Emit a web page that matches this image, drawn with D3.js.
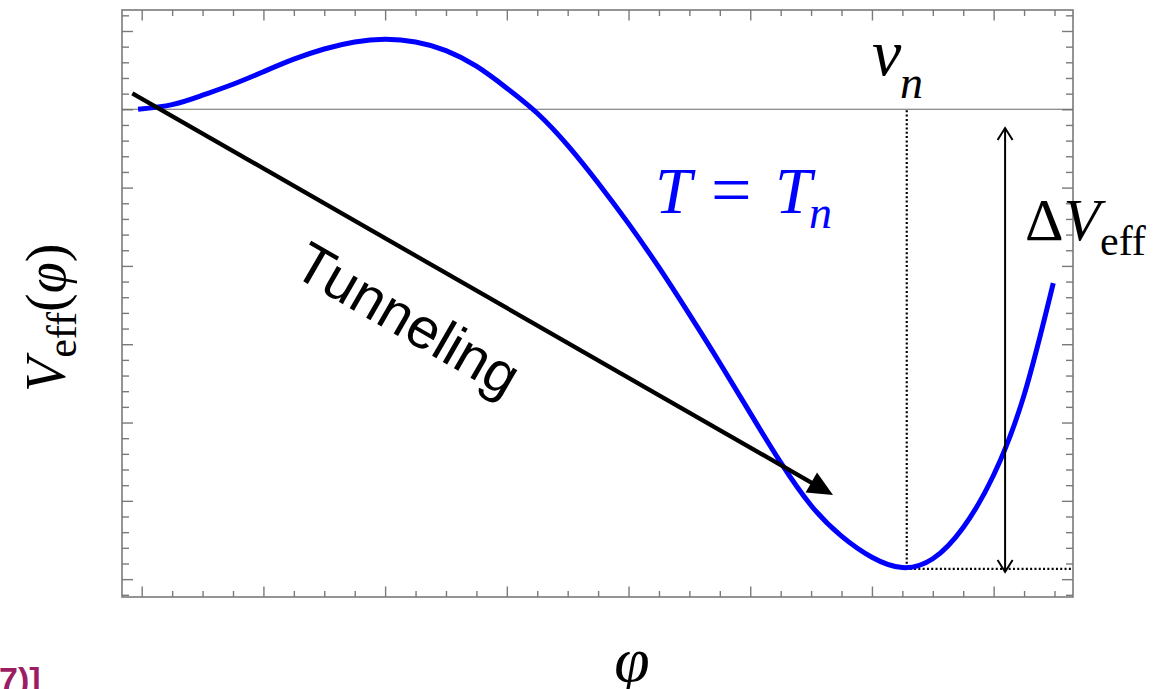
<!DOCTYPE html>
<html>
<head>
<meta charset="utf-8">
<script src="https://cdn.jsdelivr.net/npm/d3@7"></script>
<style>
  html, body { margin: 0; padding: 0; background: #fff; }
  svg { display: block; }
</style>
</head>
<body>
<svg id="chart" width="1173" height="689"></svg>
<script>
// ---- Data ----
const phi  = [-0.03, 0.25, 0.5, 0.75, 1.0, 1.25, 1.5, 1.75, 2.0, 2.25, 2.5, 2.75, 3.0, 3.25, 3.5, 3.75, 4.0, 4.25, 4.5, 4.75, 5.0, 5.25, 5.5, 5.75, 6.0, 6.25, 6.5, 6.75, 7.0, 7.25, 7.49];
const veff = [0.0, 0.06, 0.18, 0.32, 0.48, 0.64, 0.77, 0.86, 0.894, 0.86, 0.75, 0.55, 0.27, -0.05, -0.46, -0.94, -1.46, -2.02, -2.62, -3.24, -3.88, -4.51, -5.06, -5.45, -5.72, -5.852, -5.74, -5.34, -4.67, -3.65, -2.22];

const xMajorTicks = [0, 1, 2, 3, 4, 5, 6, 7];
const yMajorTicks = [-6, -5, -4, -3, -2, -1, 0, 1];
const xDomain = [-0.162, 7.652];
const yDomain = [-6.228, 1.268];

// annotation anchors (data units)
const phiN = 6.286;          // v_n, location of true minimum
const vMin = -5.87;          // depth of the minimum
const tunnelStart = [-0.077, 0.204];
const tunnelEnd   = [5.68, -4.925];
const deltaArrowPhi = 7.094;
const deltaArrowTop = -0.24;

// ---- Layout ----
const svg = d3.select("#chart");
const pLeft = 122, pTop = 10, pRight = 1073, pBottom = 597;

const x = d3.scaleLinear().domain(xDomain).range([pLeft, pRight]);
const y = d3.scaleLinear().domain(yDomain).range([pBottom, pTop]);

const isInt = v => Math.abs(v - Math.round(v)) < 1e-6;
const xMinorTicks = d3.range(0, 7.6, 0.25).map(v => +v.toFixed(2)).filter(v => !isInt(v));
const yMinorTicks = d3.range(-6.2, 1.25, 0.2).map(v => +v.toFixed(2)).filter(v => !isInt(v));

const tickColor = "#7a7a7a";
function styleAxis(g) {
  g.select(".domain").remove();
  g.selectAll(".tick line").attr("stroke", tickColor).attr("stroke-width", 1.4);
  g.selectAll(".tick text").remove();
}

// ticks on all four sides, pointing inward
const axes = svg.append("g");
axes.append("g").attr("transform", `translate(0,${pBottom})`).call(d3.axisBottom(x).tickValues(xMinorTicks).tickSize(-6).tickFormat("")).call(styleAxis);
axes.append("g").attr("transform", `translate(0,${pBottom})`).call(d3.axisBottom(x).tickValues(xMajorTicks).tickSize(-10.5).tickFormat("")).call(styleAxis);
axes.append("g").attr("transform", `translate(0,${pTop})`).call(d3.axisTop(x).tickValues(xMinorTicks).tickSize(-6).tickFormat("")).call(styleAxis);
axes.append("g").attr("transform", `translate(0,${pTop})`).call(d3.axisTop(x).tickValues(xMajorTicks).tickSize(-10.5).tickFormat("")).call(styleAxis);
axes.append("g").attr("transform", `translate(${pLeft},0)`).call(d3.axisLeft(y).tickValues(yMinorTicks).tickSize(-7).tickFormat("")).call(styleAxis);
axes.append("g").attr("transform", `translate(${pLeft},0)`).call(d3.axisLeft(y).tickValues(yMajorTicks).tickSize(-11).tickFormat("")).call(styleAxis);
axes.append("g").attr("transform", `translate(${pRight},0)`).call(d3.axisRight(y).tickValues(yMinorTicks).tickSize(-7).tickFormat("")).call(styleAxis);
axes.append("g").attr("transform", `translate(${pRight},0)`).call(d3.axisRight(y).tickValues(yMajorTicks).tickSize(-11).tickFormat("")).call(styleAxis);

// frame
svg.append("rect")
  .attr("x", pLeft).attr("y", pTop)
  .attr("width", pRight - pLeft).attr("height", pBottom - pTop)
  .attr("fill", "none").attr("stroke", tickColor).attr("stroke-width", 1.6);

// zero line
svg.append("line")
  .attr("x1", pLeft).attr("x2", pRight)
  .attr("y1", y(0)).attr("y2", y(0))
  .attr("stroke", "#6a6a6a").attr("stroke-width", 1.1);

// dotted lines
svg.append("line")
  .attr("x1", x(phiN)).attr("x2", x(phiN))
  .attr("y1", y(0) + 1).attr("y2", y(vMin) - 1)
  .attr("stroke", "#000").attr("stroke-width", 2.2).attr("stroke-dasharray", "2,2.3");
svg.append("line")
  .attr("x1", x(phiN) + 3).attr("x2", pRight)
  .attr("y1", y(vMin)).attr("y2", y(vMin))
  .attr("stroke", "#000").attr("stroke-width", 2.2).attr("stroke-dasharray", "2,2.3");

// potential curve
const line = d3.line().x((d, i) => x(phi[i])).y((d, i) => y(veff[i])).curve(d3.curveNatural);
svg.append("path")
  .datum(veff)
  .attr("d", line)
  .attr("fill", "none")
  .attr("stroke", "#0000ff")
  .attr("stroke-width", 5);

// tunneling arrow
{
  const x0 = x(tunnelStart[0]), y0 = y(tunnelStart[1]);
  const x1 = x(tunnelEnd[0]), y1 = y(tunnelEnd[1]);
  const dx = x1 - x0, dy = y1 - y0, L = Math.hypot(dx, dy);
  const ux = dx / L, uy = dy / L;
  const headLen = 25, headHalf = 11.5;
  const bx = x1 - ux * headLen, by = y1 - uy * headLen;
  svg.append("line")
    .attr("x1", x0).attr("y1", y0).attr("x2", bx + ux * 2).attr("y2", by + uy * 2)
    .attr("stroke", "#000").attr("stroke-width", 4.3);
  svg.append("path")
    .attr("d", `M${x1},${y1}L${bx - uy * headHalf},${by + ux * headHalf}L${bx + uy * headHalf},${by - ux * headHalf}Z`)
    .attr("fill", "#000");
}

// delta V arrow (double headed, open heads)
{
  const ax = x(deltaArrowPhi);
  const yt = y(deltaArrowTop), yb = y(vMin) + 3;
  svg.append("line").attr("x1", ax).attr("x2", ax).attr("y1", yt).attr("y2", yb)
    .attr("stroke", "#000").attr("stroke-width", 2);
  svg.append("path").attr("d", `M${ax - 7.5},${yt + 12}L${ax},${yt}L${ax + 7.5},${yt + 12}`)
    .attr("fill", "none").attr("stroke", "#000").attr("stroke-width", 2);
  svg.append("path").attr("d", `M${ax - 7.5},${yb - 12}L${ax},${yb}L${ax + 7.5},${yb - 12}`)
    .attr("fill", "none").attr("stroke", "#000").attr("stroke-width", 2);
}

const serif = "'Liberation Serif', 'Times New Roman', serif";
const sans = "'Liberation Sans', Arial, Helvetica, sans-serif";

// v_n label
{
  const t = svg.append("text").attr("font-family", serif).attr("font-style", "italic").attr("fill", "#000");
  t.append("tspan").attr("x", 872).attr("y", 75).attr("font-size", 66).text("v");
  t.append("tspan").attr("x", 900).attr("y", 98).attr("font-size", 46).text("n");
}

// T = T_n label
{
  const t = svg.append("text").attr("font-family", serif).attr("fill", "#0000ff");
  t.append("tspan").attr("x", 655).attr("y", 213).attr("font-size", 66).attr("font-style", "italic").text("T");
  t.append("tspan").attr("x", 711).attr("y", 214).attr("font-size", 72).text("=");
  t.append("tspan").attr("x", 775).attr("y", 213).attr("font-size", 66).attr("font-style", "italic").text("T");
  t.append("tspan").attr("x", 809).attr("y", 228).attr("font-size", 46).attr("font-style", "italic").text("n");
}

// Delta V_eff label
{
  const t = svg.append("text").attr("font-family", serif).attr("fill", "#000");
  t.append("tspan").attr("x", 1025).attr("y", 240).attr("font-size", 60).text("Δ");
  t.append("tspan").attr("font-size", 60).attr("font-style", "italic").text("V");
  t.append("tspan").attr("x", 1100).attr("y", 255).attr("font-size", 42).text("eff");
}

// Tunneling label
svg.append("text")
  .attr("transform", "translate(398,336) rotate(30)")
  .attr("text-anchor", "middle")
  .attr("font-family", sans)
  .attr("font-size", 57)
  .attr("fill", "#000")
  .text("Tunneling");

// x axis label
svg.append("text")
  .attr("x", 632).attr("y", 681)
  .attr("text-anchor", "middle")
  .attr("font-family", serif).attr("font-style", "italic")
  .attr("font-size", 64).attr("fill", "#000")
  .text("φ");

// y axis label
{
  const t = svg.append("text")
    .attr("transform", "translate(65,392) rotate(-90)")
    .attr("font-family", serif).attr("fill", "#000");
  t.append("tspan").attr("font-size", 56).attr("font-style", "italic").text("V");
  t.append("tspan").attr("font-size", 42).attr("dy", 11).text("eff");
  t.append("tspan").attr("font-size", 56).attr("dy", -11).text("(");
  t.append("tspan").attr("font-size", 56).attr("font-style", "italic").text("φ");
  t.append("tspan").attr("font-size", 56).text(")");
}

// cropped caption fragment at bottom-left
svg.append("text")
  .attr("x", -1).attr("y", 691)
  .attr("font-family", sans).attr("font-weight", "bold")
  .attr("font-size", 34).attr("fill", "#9b1d62")
  .text("7)]");
</script>
</body>
</html>
